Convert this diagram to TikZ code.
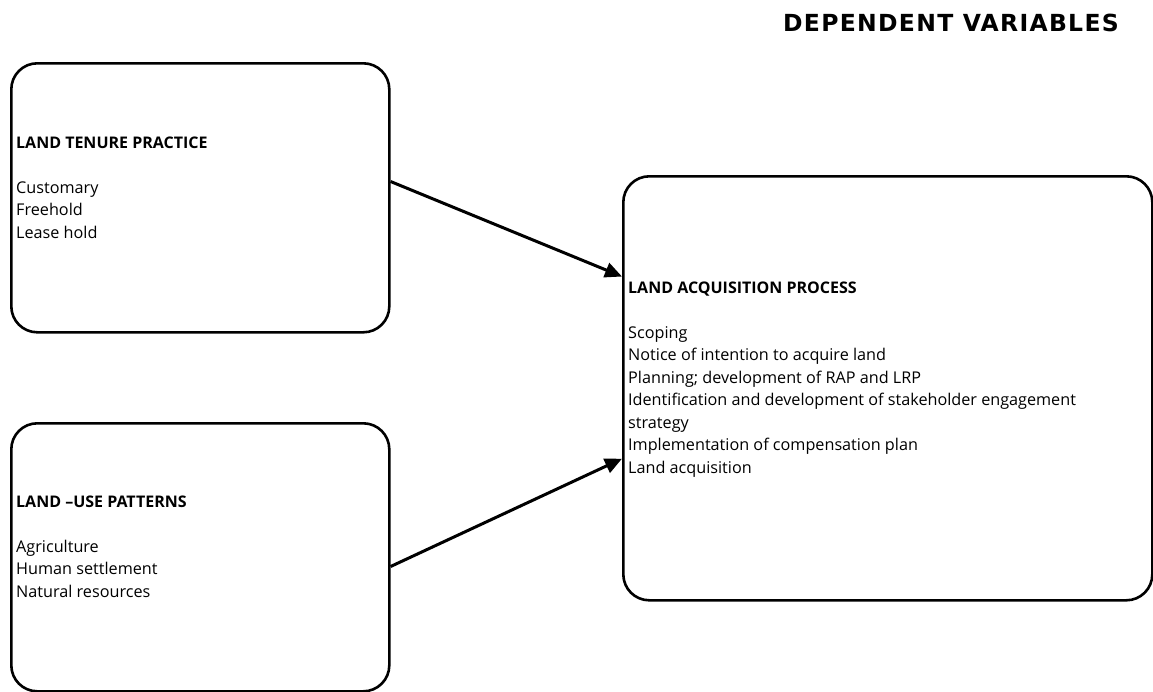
\documentclass[tikz,border=0pt]{standalone}
\usepackage{fontspec}
\setmainfont{Open Sans}
\newfontfamily\headfont{DejaVu Sans}
\usetikzlibrary{arrows.meta,calc}
\tikzset{
  box/.style={draw, line width=2.6pt, rounded corners=26pt, inner sep=0pt, anchor=north west},
  bodytext/.style={anchor=base west, align=left, inner sep=0pt, font=\fontsize{16.2}{22.5}\selectfont},
  conn/.style={line width=3pt, -{Triangle[length=17pt,width=15pt]}},
}
\newcommand{\ttl}[1]{{\fontsize{16}{22.5}\selectfont\bfseries #1}}
\begin{document}
\begin{tikzpicture}[x=1pt,y=-1pt]
\useasboundingbox (0,0) rectangle (1153,691);
% boxes
\node[box, minimum width=378pt, minimum height=269pt] (b1) at (10,62) {};
\node[box, minimum width=378pt, minimum height=268pt] (b2) at (10,422) {};
\node[box, minimum width=529pt, minimum height=424pt] (b3) at (622,175) {};
% heading
\node[anchor=base west, inner sep=0pt, font=\headfont\bfseries\fontsize{23.5}{26}\selectfont\addfontfeature{LetterSpace=5.5}] (head) at (783,31) {DEPENDENT VARIABLES};
% texts (anchored at the baseline of the last line)
\node[bodytext] (t1) at (16,238) {\ttl{LAND TENURE PRACTICE}\\[22.5pt]Customary\\Freehold\\Lease hold};
\node[bodytext] (t2) at (16,597) {\ttl{LAND –USE PATTERNS}\\[22.5pt]Agriculture\\Human settlement\\Natural resources};
\node[bodytext] (t3) at (628,473) {\ttl{LAND ACQUISITION PROCESS}\\[22.5pt]Scoping\\Notice of intention to acquire land\\Planning; development of RAP and LRP\\Identification and development of stakeholder engagement\\strategy\\Implementation of compensation plan\\Land acquisition};
% arrows
\draw[conn] ($(b1.north east)!0.44!(b1.south east)$) -- ($(b3.north west)!0.238!(b3.south west)$);
\draw[conn] ($(b2.north east)!0.534!(b2.south east)$) -- ($(b3.north west)!0.665!(b3.south west)$);
\end{tikzpicture}
\end{document}
